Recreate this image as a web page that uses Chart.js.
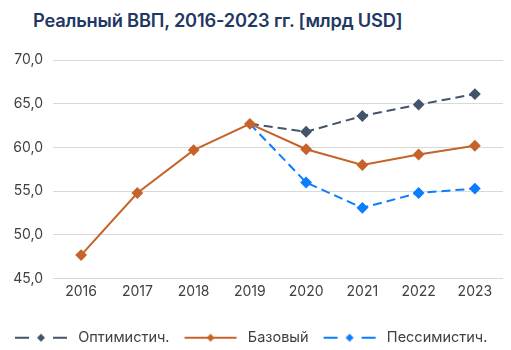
<!DOCTYPE html>
<html><head><meta charset="utf-8">
<script src="https://cdn.jsdelivr.net/npm/chart.js@4.4.0/dist/chart.umd.min.js"></script>
<style>
html,body{margin:0;padding:0;background:#fff;}
#wrap{position:relative;width:511px;height:350px;}
#title{position:absolute;left:33px;top:9px;font-family:Inter,"Noto Sans",sans-serif;font-weight:600;font-size:18.3px;color:#1F3864;white-space:nowrap;letter-spacing:-0.2px;}
canvas{position:absolute;left:0;top:0;}
</style></head><body>
<div id="wrap"><div id="title">Реальный ВВП, 2016-2023 гг. [млрд USD]</div><canvas id="c" width="511" height="350"></canvas></div>
<script>
const categories = ['2016','2017','2018','2019','2020','2021','2022','2023'];
const seriesNames = ['Оптимистич.','Базовый','Пессимистич.'];
const optimistic = [null,null,null,62.7,61.8,63.6,64.9,66.1];
const base = [47.7,54.8,59.7,62.7,59.8,58.0,59.2,60.2];
const pessimistic = [null,null,null,62.7,56.0,53.1,54.8,55.3];
const yMin = 45, yMax = 70, yStep = 5;

const colors = ['#44546A','#C5632A','#0A7CFF'];
const FONT = 'Inter, "Noto Sans", sans-serif';

function legendImg(color, dashed){
  const w=62,h=12; const cv=document.createElement('canvas'); cv.width=w; cv.height=h;
  const g=cv.getContext('2d'); g.strokeStyle=color; g.fillStyle=color; g.lineWidth=2;
  const y=h/2, x0=6, x1=58, cx=(x0+x1)/2;
  g.beginPath();
  if(dashed){ g.moveTo(x0,y); g.lineTo(x0+14,y); g.moveTo(x1-14,y); g.lineTo(x1,y); }
  else { g.moveTo(x0,y); g.lineTo(x1,y); }
  g.stroke();
  const r=4; g.beginPath(); g.moveTo(cx,y-r); g.lineTo(cx+r,y); g.lineTo(cx,y+r); g.lineTo(cx-r,y); g.closePath(); g.fill();
  return cv;
}
const hideFirst = (arr)=>arr.map((v,i)=> i===3?0:4.5);

new Chart(document.getElementById('c'),{
  type:'line',
  data:{labels:categories,datasets:[
    {label:seriesNames[0],data:optimistic,borderColor:colors[0],backgroundColor:colors[0],borderDash:[9,5],borderWidth:2,pointStyle:'rectRot',pointRadius:hideFirst(optimistic),pointHoverRadius:0,order:2,legendImg:legendImg(colors[0],true)},
    {label:seriesNames[1],data:base,borderColor:colors[1],backgroundColor:colors[1],borderWidth:2,pointStyle:'rectRot',pointRadius:4.5,order:1,legendImg:legendImg(colors[1],false)},
    {label:seriesNames[2],data:pessimistic,borderColor:colors[2],backgroundColor:colors[2],borderDash:[9,5],borderWidth:2,pointStyle:'rectRot',pointRadius:hideFirst(pessimistic),order:3,legendImg:legendImg(colors[2],true)}
  ]},
  options:{
    responsive:false,animation:false,
    layout:{padding:{left:0,right:8,top:60,bottom:-5}},
    plugins:{
      tooltip:{enabled:false},
      legend:{position:'bottom',align:'start',labels:{usePointStyle:true,pointStyleWidth:62,padding:9,color:'#404040',font:{family:FONT,size:14.5},
        generateLabels:(chart)=>chart.data.datasets.map((d,i)=>({text:d.label,pointStyle:d.legendImg,datasetIndex:i,fontColor:'#404040',lineWidth:0,hidden:false}))}}
    },
    scales:{
      x:{offset:true,grid:{display:false,drawTicks:false},border:{display:false},
        afterFit:(s)=>{s.height+=16;},
        ticks:{padding:5,color:'#404040',font:{family:FONT,size:14}}},
      y:{min:yMin,max:yMax,grid:{color:'#D9D9D9',drawTicks:false},border:{display:false},
        afterFit:(s)=>{s.width=53;},
        ticks:{stepSize:yStep,padding:10,color:'#404040',font:{family:FONT,size:14},callback:(v)=>v.toFixed(1).replace('.',',')}}
    }
  }
});
</script></body></html>
